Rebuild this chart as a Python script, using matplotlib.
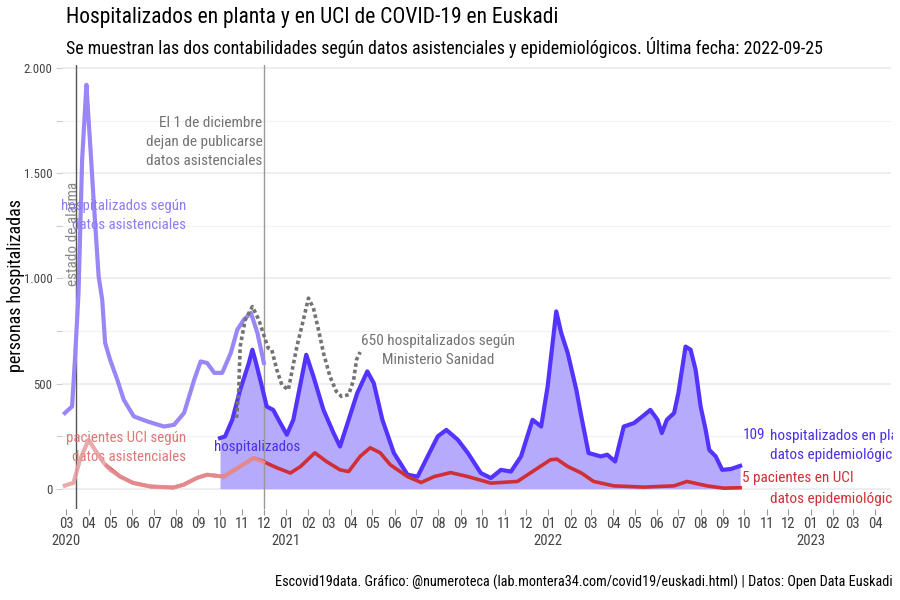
import numpy as np
import pandas as pd
import matplotlib
matplotlib.use("Agg")
import matplotlib.pyplot as plt
from matplotlib.ticker import FuncFormatter, MultipleLocator
from matplotlib.transforms import Bbox, TransformedBbox

plt.rcParams['font.family'] = ['Roboto Condensed', 'Liberation Sans Narrow', 'Roboto', 'DejaVu Sans']

# hospitalizados según datos asistenciales (hasta 1 dic 2020)
asis_hosp_dates = ["2020-02-28", "2020-03-02", "2020-03-09", "2020-03-13", "2020-03-18", "2020-03-23",
                   "2020-03-29", "2020-04-01", "2020-04-04", "2020-04-08", "2020-04-15", "2020-04-20",
                   "2020-04-24", "2020-05-01", "2020-05-11", "2020-05-20", "2020-06-03", "2020-06-22",
                   "2020-07-15", "2020-07-29", "2020-08-12", "2020-08-26", "2020-09-04", "2020-09-13",
                   "2020-09-23", "2020-10-04", "2020-10-16", "2020-10-25", "2020-11-03", "2020-11-13",
                   "2020-11-22", "2020-12-01"]
asis_hosp = [360, 370, 391, 613, 931, 1563, 1920, 1754, 1597, 1373, 1009, 898,
             694, 613, 518, 423, 344, 320, 296, 304, 361, 518, 605, 598,
             551, 551, 646, 756, 803, 836, 741, 598]

# pacientes UCI según datos asistenciales
asis_uci_dates = ["2020-02-28", "2020-03-02", "2020-03-11", "2020-03-20", "2020-04-01", "2020-04-10",
                  "2020-04-22", "2020-05-01", "2020-05-15", "2020-06-02", "2020-06-26", "2020-07-28",
                  "2020-08-11", "2020-08-30", "2020-09-13", "2020-10-06", "2020-10-29", "2020-11-17",
                  "2020-11-30"]
asis_uci = [15, 19, 28, 138, 233, 185, 124, 90, 58, 28, 11, 6, 19, 52, 67, 58, 106, 147, 125]

# hospitalizados en planta según datos epidemiológicos
epi_hosp_dates = ["2020-10-01", "2020-10-08", "2020-10-18", "2020-10-29", "2020-11-10", "2020-11-15",
                  "2020-11-19", "2020-11-26", "2020-12-05", "2020-12-14", "2020-12-24", "2021-01-02",
                  "2021-01-11", "2021-01-29", "2021-02-08", "2021-02-22", "2021-03-08", "2021-03-17",
                  "2021-03-29", "2021-04-10", "2021-04-24", "2021-05-03", "2021-05-15", "2021-05-31",
                  "2021-06-19", "2021-07-03", "2021-07-17", "2021-07-31", "2021-08-12", "2021-08-28",
                  "2021-09-11", "2021-09-29", "2021-10-13", "2021-10-27", "2021-11-10", "2021-11-24",
                  "2021-12-10", "2021-12-22", "2021-12-31", "2022-01-12", "2022-01-19", "2022-01-28",
                  "2022-02-09", "2022-02-15", "2022-02-26", "2022-03-15", "2022-03-24", "2022-04-04",
                  "2022-04-16", "2022-04-30", "2022-05-12", "2022-05-23", "2022-06-02", "2022-06-08",
                  "2022-06-15", "2022-06-25", "2022-07-01", "2022-07-11", "2022-07-18", "2022-07-25",
                  "2022-08-01", "2022-08-08", "2022-08-13", "2022-08-22", "2022-08-31", "2022-09-12",
                  "2022-09-25"]
epi_hosp = [241, 249, 328, 470, 597, 661, 613, 518, 391, 375, 312, 257,
            328, 637, 534, 375, 265, 201, 328, 455, 558, 502, 328, 170,
            67, 58, 154, 249, 280, 233, 170, 75, 51, 90, 82, 154,
            328, 296, 486, 843, 740, 645, 470, 360, 170, 154, 162, 130,
            296, 312, 344, 375, 328, 265, 328, 360, 455, 676, 661, 566,
            391, 280, 185, 154, 90, 94, 109]

# pacientes en UCI según datos epidemiológicos
epi_uci_dates = ["2020-04-26", "2020-05-15", "2020-06-02", "2020-06-26", "2020-07-28", "2020-08-11",
                 "2020-08-30", "2020-09-13", "2020-10-06", "2020-10-29", "2020-11-17", "2020-11-30",
                 "2020-12-19", "2021-01-07", "2021-01-21", "2021-02-10", "2021-02-26", "2021-03-17",
                 "2021-03-29", "2021-04-14", "2021-04-28", "2021-05-12", "2021-05-26", "2021-06-19",
                 "2021-07-08", "2021-07-26", "2021-08-18", "2021-09-11", "2021-10-13", "2021-11-19",
                 "2021-12-18", "2022-01-04", "2022-01-13", "2022-01-28", "2022-02-16", "2022-03-05",
                 "2022-04-02", "2022-05-14", "2022-06-25", "2022-07-13", "2022-08-10", "2022-09-02",
                 "2022-09-25"]
epi_uci = [110, 58, 28, 11, 6, 19, 52, 67, 58, 106, 147, 130,
           100, 75, 106, 171, 130, 90, 82, 154, 195, 171, 114, 58,
           30, 58, 77, 58, 27, 35, 100, 138, 141, 106, 75, 35,
           14, 8, 14, 35, 14, 3, 5]

# hospitalizados según Ministerio de Sanidad
min_dates = ["2020-10-24", "2020-10-27", "2020-10-29", "2020-11-05", "2020-11-15", "2020-11-24",
             "2020-11-30", "2020-12-07", "2020-12-12", "2020-12-19", "2020-12-26", "2021-01-04",
             "2021-01-16", "2021-01-25", "2021-02-01", "2021-02-08", "2021-02-15", "2021-02-22",
             "2021-03-03", "2021-03-12", "2021-03-19", "2021-03-29", "2021-04-05", "2021-04-09",
             "2021-04-14"]
min_hosp = [337, 470, 676, 803, 866, 803, 740, 669, 661, 566, 494, 470,
            676, 803, 906, 859, 756, 645, 534, 462, 439, 447, 518, 613, 650]

alarma_date = "2020-03-14"
corte_date = "2020-12-01"

C_BLUE = "#5533ff"
C_FILL = "#b5aafc"
C_LPURP = "#9a86f6"
C_RED = "#d02f36"
C_LRED = "#e79a9b"
C_GRAY = "#737373"

d = pd.to_datetime

fig = plt.figure(figsize=(9, 6), dpi=100)
ax = fig.add_axes([62 / 900, 1 - 509 / 600, (891 - 62) / 900, (509 - 64.6) / 600])

ax.fill_between(d(epi_hosp_dates), 0, epi_hosp, color=C_FILL, lw=0, zorder=1)
ax.plot(d(epi_hosp_dates), epi_hosp, color=C_BLUE, lw=3.0, zorder=3)
ax.plot(d(epi_uci_dates), epi_uci, color=C_RED, lw=2.6, zorder=4)
ax.plot(d(asis_hosp_dates), asis_hosp, color=C_LPURP, lw=3.0, zorder=3)
ax.plot(d(asis_uci_dates), asis_uci, color=C_LRED, lw=3.0, alpha=0.85, zorder=5)
ax.plot(d(min_dates), min_hosp, color=C_GRAY, lw=2.6, ls=(0, (1, 0.8)), zorder=6)

ax.axvline(d(alarma_date), color="#555555", lw=1, zorder=2)
ax.axvline(d(corte_date), color="#999999", lw=1, zorder=2)

ax.set_xlim(d("2020-02-24"), d("2023-04-23"))
ax.set_ylim(-96, 2016)

# ejes y rejilla
for s in ax.spines.values():
    s.set_visible(False)
ax.yaxis.set_major_locator(MultipleLocator(500))
ax.yaxis.set_minor_locator(MultipleLocator(250))
ax.yaxis.set_major_formatter(FuncFormatter(lambda v, p: f"{int(v):,}".replace(",", ".")))
ax.grid(axis="y", which="major", color="#ebebeb", lw=1.2, zorder=0)
ax.grid(axis="y", which="minor", color="#f2f2f2", lw=0.9, zorder=0)
ax.set_axisbelow(True)

months = pd.date_range("2020-03-01", "2023-04-01", freq="MS")
ax.set_xticks(months)
ax.set_xticklabels([m.strftime("%m") + ("\n%d" % m.year if (m.month == 1 or m == months[0]) else "")
                    for m in months])
ax.tick_params(axis="x", length=4, width=0.8, color="#999999", labelsize=10.5,
               labelcolor="#444444", pad=2)
ax.tick_params(axis="y", which="both", length=4, width=0.8, color="#cccccc", labelsize=9.2,
               labelcolor="#444444", pad=3)

fig.text(16 / 900, 1 - 286 / 600, "personas hospitalizadas", rotation=90, fontsize=13,
         ha="center", va="center")

# anotaciones
clip = TransformedBbox(Bbox([[0, 0], [893 / 900, 1]]), fig.transFigure)

ax.text(d("2020-03-10"), 1210, "estado de alarma", rotation=90, color="#888888",
        fontsize=11, ha="center", va="center")
ax.text(d("2020-11-29"), 1649, "El 1 de diciembre\ndejan de publicarse\ndatos asistenciales",
        color=C_GRAY, fontsize=11, ha="right", va="center", linespacing=1.45)
ax.text(d("2020-08-15"), 1300, "hospitalizados según\ndatos asistenciales", color="#8f7cf5",
        fontsize=10.7, ha="right", va="center", linespacing=1.45)
ax.text(d("2020-08-15"), 197, "pacientes UCI según\ndatos asistenciales", color="#e07676",
        fontsize=10.7, ha="right", va="center", linespacing=1.45)
ax.text(d("2020-11-21"), 200, "hospitalizados", color="#4b30ea", fontsize=10.7,
        ha="center", va="center")
ax.text(d("2021-08-01"), 656, "650 hospitalizados según\nMinisterio Sanidad", color=C_GRAY,
        fontsize=11, ha="center", va="center", linespacing=1.45)

labels_right = [
    ("2022-09-28", 257, "109", "#4b30ea"),
    ("2022-11-05", 207, "hospitalizados en planta según\ndatos epidemiológicos", "#4b30ea"),
    ("2022-09-28", 52, "5", C_RED),
    ("2022-10-13", 52, "pacientes en UCI", C_RED),
    ("2022-11-05", -48, "datos epidemiológicos", C_RED),
]
for xd, yv, txt, col in labels_right:
    t = ax.text(d(xd), yv, txt, color=col, fontsize=11, ha="left", va="center",
                linespacing=1.45, clip_on=True)
    t.set_clip_box(clip)

fig.text(66 / 900, 1 - 18 / 600, "Hospitalizados en planta y en UCI de COVID-19 en Euskadi",
         fontsize=15.5, ha="left", va="center")
fig.text(66 / 900, 1 - 47 / 600,
         "Se muestran las dos contabilidades según datos asistenciales y epidemiológicos. Última fecha: 2022-09-25",
         fontsize=12.9, ha="left", va="center")
fig.text(893 / 900, 1 - 582 / 600,
         "Escovid19data. Gráfico: @numeroteca (lab.montera34.com/covid19/euskadi.html) | Datos: Open Data Euskadi",
         fontsize=10.3, ha="right", va="center")

fig.savefig("out.png", dpi=100)
